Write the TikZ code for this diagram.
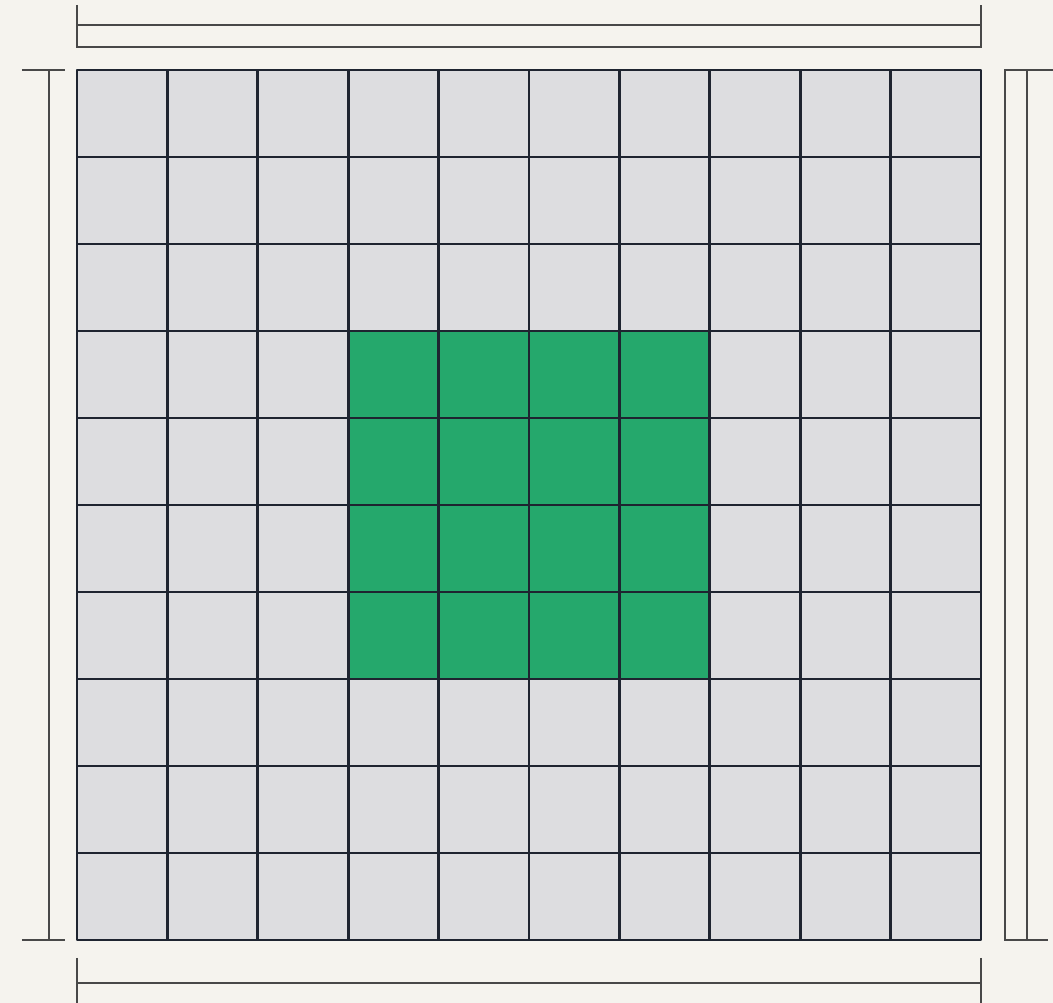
\documentclass[tikz,border=0pt]{standalone}
\usetikzlibrary{calc}
\definecolor{paper}{RGB}{245,243,238}
\definecolor{cellgray}{RGB}{221,221,224}
\definecolor{cellgreen}{RGB}{37,168,108}
\definecolor{gridink}{RGB}{30,36,48}
\definecolor{brkink}{RGB}{72,72,72}
\tikzset{
  gridln/.style={draw=gridink,line width=0.85pt,line join=round},
  brk/.style={draw=brkink,line width=0.75pt},
}
\begin{document}
\begin{tikzpicture}[x=0.01cm,y=-0.01cm]
\fill[paper] (0,0) rectangle (1053,1003);
\useasboundingbox (0,0) rectangle (1053,1003);
\def\cw{90.4}\def\ch{87}
\coordinate (nw) at (77,70); \coordinate (se) at (981,940);
% cells
\fill[cellgray] (nw) rectangle (se);
\fill[cellgreen] (77+3*\cw,70+3*\ch) rectangle (77+7*\cw,70+7*\ch);
\foreach \i in {0,...,10} {
  \draw[gridln] (77+\i*\cw,70) -- (77+\i*\cw,940);
  \draw[gridln] (77,70+\i*\ch) -- (981,70+\i*\ch);
}
\draw[gridln] (nw) rectangle (se);
% top
\draw[brk] (77,5) -- (77,47) -- (981,47) -- (981,5);
\draw[brk] (77,25) -- (981,25);
% left
\draw[brk] (22,70) -- (65,70); \draw[brk] (22,940) -- (65,940);
\draw[brk] (49,70) -- (49,940);
% right
\draw[brk] (1053,70) -- (1005,70) -- (1005,940) -- (1048,940);
\draw[brk] (1027,70) -- (1027,940);
% bottom
\draw[brk] (77,958) -- (77,1003); \draw[brk] (981,958) -- (981,1003);
\draw[brk] (77,983) -- (981,983);
\end{tikzpicture}
\end{document}
